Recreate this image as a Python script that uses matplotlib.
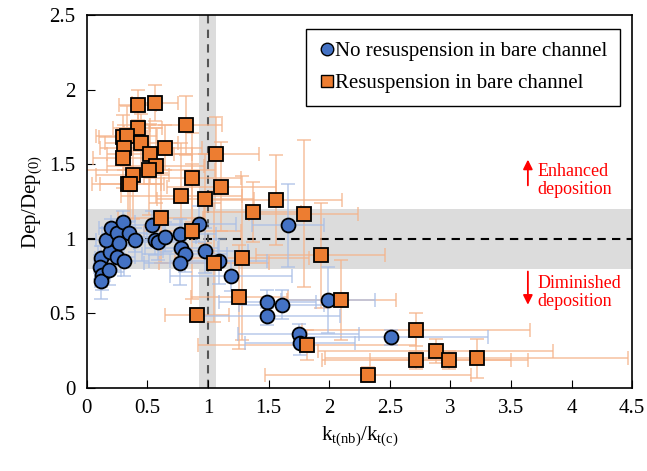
import numpy as np
import matplotlib.pyplot as plt
from matplotlib.lines import Line2D

plt.rcParams['font.family'] = ['Liberation Serif', 'DejaVu Serif']
plt.rcParams['mathtext.fontset'] = 'custom'
plt.rcParams['mathtext.rm'] = 'Liberation Serif'
plt.rcParams['mathtext.it'] = 'Liberation Serif:italic'

# no resuspension in bare channel (blue circles)
bx = [0.12, 0.11, 0.13, 0.12, 0.18, 0.19, 0.16, 0.20, 0.25, 0.27, 0.30, 0.25,
      0.31, 0.35, 0.40, 0.54, 0.56, 0.59, 0.65, 0.77, 0.78, 0.81, 0.77, 0.93,
      0.98, 1.09, 1.19, 1.66, 1.49, 1.61, 1.99, 1.49, 1.75, 1.76, 2.51]
by = [0.87, 0.81, 0.76, 0.72, 0.79, 0.91, 0.99, 1.07, 1.04, 0.97, 1.11, 0.88,
      0.85, 1.04, 0.99, 1.09, 0.99, 0.98, 1.01, 1.03, 0.94, 0.90, 0.84, 1.10,
      0.92, 0.85, 0.75, 1.09, 0.58, 0.56, 0.59, 0.48, 0.36, 0.30, 0.34]
bxerr = [0.05, 0.05, 0.06, 0.05, 0.10, 0.10, 0.08, 0.10, 0.12, 0.12, 0.10, 0.15,
         0.20, 0.15, 0.20, 0.25, 0.25, 0.20, 0.25, 0.30, 0.30, 0.35, 0.30, 0.30,
         0.35, 0.40, 0.50, 0.30, 0.40, 0.35, 0.39, 0.60, 0.50, 0.45, 0.80]
byerr = [0.08, 0.08, 0.10, 0.12, 0.10, 0.08, 0.08, 0.06, 0.08, 0.10, 0.08, 0.10,
         0.10, 0.08, 0.08, 0.10, 0.10, 0.12, 0.10, 0.10, 0.12, 0.12, 0.15, 0.12,
         0.15, 0.15, 0.10, 0.28, 0.08, 0.10, 0.22, 0.06, 0.07, 0.08, 0.05]

# resuspension in bare channel (orange squares)
ox = [0.42, 0.56, 0.42, 0.82, 0.30, 0.33, 0.31, 0.30, 0.45, 0.52, 0.65, 0.57,
      0.51, 0.38, 0.34, 0.36, 1.07, 0.87, 1.11, 0.78, 0.98, 1.56, 1.37, 1.79,
      0.61, 0.87, 1.05, 1.28, 1.93, 1.26, 2.10, 0.91, 1.82, 2.32, 2.72, 2.88,
      2.72, 2.99, 3.22]
oy = [1.90, 1.91, 1.74, 1.76, 1.68, 1.69, 1.61, 1.54, 1.64, 1.57, 1.61, 1.49,
      1.46, 1.43, 1.37, 1.37, 1.57, 1.41, 1.35, 1.29, 1.27, 1.26, 1.18, 1.17,
      1.14, 1.05, 0.84, 0.87, 0.89, 0.61, 0.59, 0.49, 0.29, 0.09, 0.39, 0.25,
      0.19, 0.19, 0.20]
oxerr = [0.15, 0.19, 0.20, 0.30, 0.20, 0.25, 0.20, 0.25, 0.30, 0.35, 0.30, 0.40,
         0.55, 0.30, 0.30, 0.25, 0.35, 0.40, 0.45, 0.50, 0.40, 0.55, 0.40, 0.45,
         0.35, 0.40, 0.45, 0.55, 0.53, 0.40, 0.45, 0.26, 0.90, 0.85, 0.94, 0.97,
         0.78, 0.65, 1.25]
oyerr = [0.10, 0.12, 0.15, 0.20, 0.15, 0.20, 0.15, 0.20, 0.20, 0.20, 0.15, 0.25,
         0.30, 0.30, 0.35, 0.30, 0.25, 0.30, 0.30, 0.35, 0.30, 0.30, 0.20, 0.49,
         0.30, 0.45, 0.40, 0.55, 0.35, 0.35, 0.27, 0.05, 0.10, 0.05, 0.11, 0.08,
         0.06, 0.06, 0.13]

fig = plt.figure(figsize=(6.47, 4.71), dpi=100)
ax = fig.add_axes([0.134, 0.176, 0.843, 0.792])

# reference bands
ax.axhspan(0.8, 1.2, color='#dcdcdc', zorder=0, lw=0)
ax.axvspan(0.93, 1.07, color='#dcdcdc', zorder=0, lw=0)
ax.axhline(1, color='black', ls=(0, (4, 3)), lw=1.5, zorder=1)
ax.axvline(1, color='#555555', ls=(0, (4, 3)), lw=1.5, zorder=1)

ax.errorbar(ox, oy, xerr=oxerr, yerr=oyerr, fmt='none', ecolor='#f5b38a',
            elinewidth=1.2, capsize=5, capthick=1.2, alpha=0.75, zorder=2)
ax.errorbar(bx, by, xerr=bxerr, yerr=byerr, fmt='none', ecolor='#a9bfe6',
            elinewidth=1.2, capsize=5, capthick=1.2, alpha=0.75, zorder=2)
ax.plot(bx, by, 'o', ms=10, mfc='#4472c4', mec='black', mew=1.3, zorder=3)
ax.plot(ox, oy, 's', ms=10, mfc='#ed7d31', mec='black', mew=1.3, zorder=4)

# annotations
ax.annotate('', xy=(3.64, 1.55), xytext=(3.64, 1.34),
            arrowprops=dict(arrowstyle='-|>', color='red', lw=1.3, mutation_scale=14))
ax.text(3.72, 1.39, 'Enhanced\ndeposition', color='red', fontsize=13,
        va='center', ha='left', linespacing=1.05)
ax.annotate('', xy=(3.64, 0.54), xytext=(3.64, 0.80),
            arrowprops=dict(arrowstyle='-|>', color='red', lw=1.3, mutation_scale=14))
ax.text(3.72, 0.64, 'Diminished\ndeposition', color='red', fontsize=13,
        va='center', ha='left', linespacing=1.05)

handles = [Line2D([], [], ls='none', marker='o', ms=9, mfc='#4472c4', mec='black'),
           Line2D([], [], ls='none', marker='s', ms=9, mfc='#ed7d31', mec='black')]
ax.legend(handles, ['No resuspension in bare channel', 'Resuspension in bare channel'],
          loc='upper right', bbox_to_anchor=(0.978, 0.962), borderaxespad=0,
          fontsize=15, handletextpad=0.0, handlelength=0.8, borderpad=0.6,
          labelspacing=0.6, fancybox=False, edgecolor='black', framealpha=1)

ax.set_xlim(0, 4.5)
ax.set_ylim(0, 2.5)
ax.set_xticks(np.arange(0, 4.51, 0.5))
ax.set_yticks(np.arange(0, 2.51, 0.5))
ax.set_xticklabels(['0', '0.5', '1', '1.5', '2', '2.5', '3', '3.5', '4', '4.5'])
ax.set_yticklabels(['0', '0.5', '1', '1.5', '2', '2.5'])
ax.tick_params(direction='in', labelsize=15, length=6, pad=8)
for s in ax.spines.values():
    s.set_linewidth(1.2)
ax.set_xlabel(r'k$_{\mathrm{t(nb)}}$/k$_{\mathrm{t(c)}}$', fontsize=15)
ax.set_ylabel(r'Dep/Dep$_{\mathrm{(0)}}$', fontsize=15)

plt.savefig('out.png')
